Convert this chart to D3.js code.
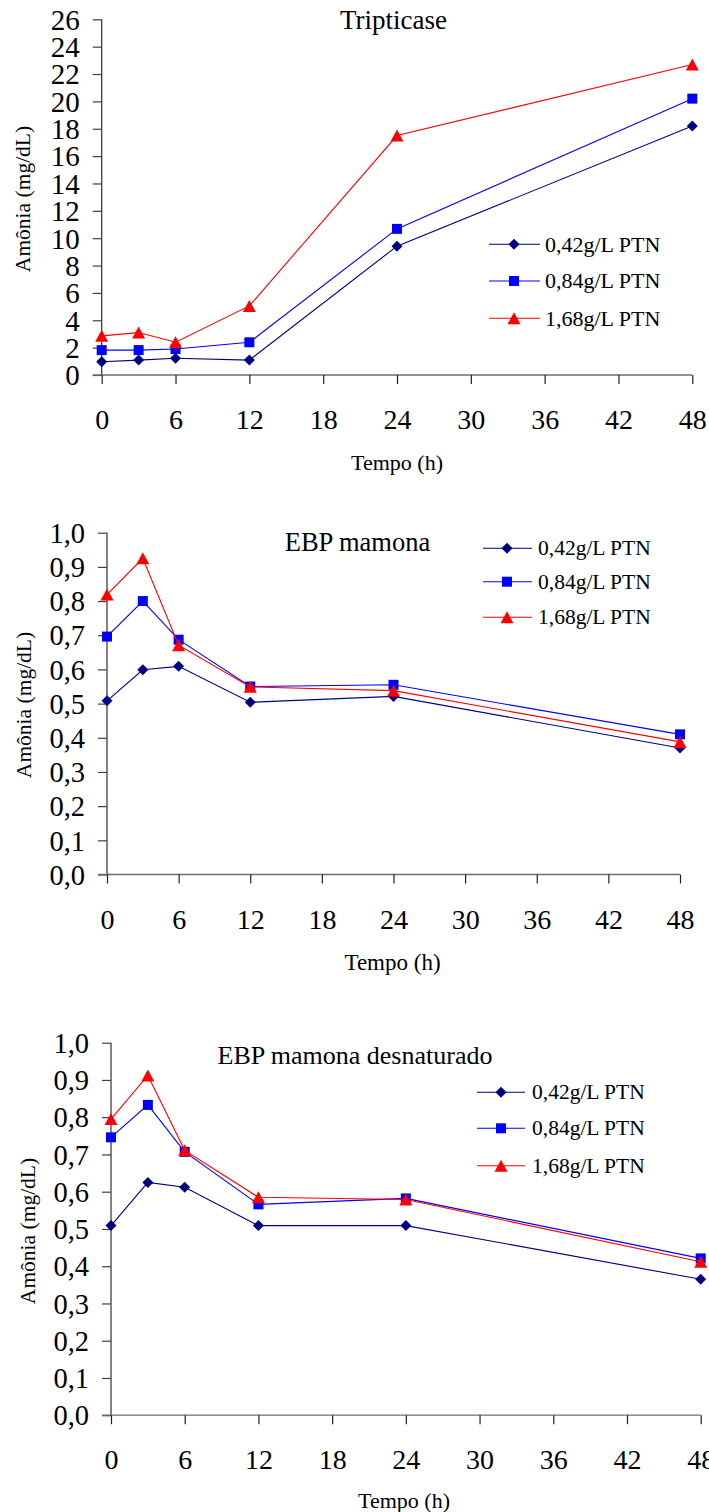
<!DOCTYPE html>
<html><head><meta charset="utf-8">
<script src="https://cdn.jsdelivr.net/npm/d3@7"></script>
<style>body{margin:0;background:#fff}svg{display:block}</style>
</head><body>
<script>
// ---- data ----
const hours = [0, 3, 6, 12, 24, 48];
const seriesNames = ["0,42g/L PTN", "0,84g/L PTN", "1,68g/L PTN"];
const xTickValues = [0, 6, 12, 18, 24, 30, 36, 42, 48];
const tripYTicks = [0, 2, 4, 6, 8, 10, 12, 14, 16, 18, 20, 22, 24, 26];
const ebpYTicks = [0, 0.1, 0.2, 0.3, 0.4, 0.5, 0.6, 0.7, 0.8, 0.9, 1.0];

const trip042 = [0.97, 1.09, 1.22, 1.09, 9.42, 18.2];
const trip084 = [1.82, 1.82, 1.90, 2.39, 10.68, 20.2];
const trip168 = [2.86, 3.10, 2.40, 5.05, 17.5, 22.7];

const ebp042 = [0.508, 0.599, 0.609, 0.504, 0.521, 0.370];
const ebp084 = [0.696, 0.800, 0.687, 0.550, 0.555, 0.410];
const ebp168 = [0.819, 0.925, 0.671, 0.549, 0.538, 0.388];

const des042 = [0.509, 0.625, 0.612, 0.509, 0.509, 0.365];
const des084 = [0.746, 0.833, 0.707, 0.566, 0.582, 0.421];
const des168 = [0.795, 0.912, 0.711, 0.585, 0.579, 0.412];

// ---- styles ----
const colors = ["#000080", "#0000FF", "#FF0000"];
const shapes = ["diamond", "square", "triangle"];
const FONT = "'Liberation Serif','Times New Roman',serif";

const panels = [
  { title: "Tripticase", series: [trip042, trip084, trip168], yTicks: tripYTicks, yMax: 26,
    fmt: d => String(d),
    x0: 101.7, x1: 692.3, yTop: 19.3, yBot: 375, yLabFont: 29,
    titleX: 393.5, titleY: 28.5, titleFont: 27,
    xtitleX: 397, xtitleY: 470, xtitleFont: 22,
    ytitleX: 24, ytitleY: 199,
    leg: { x0: 489, x1: 540, mx: 514, tx: 545, rows: [244.3, 281, 318.3], font: 22 } },
  { title: "EBP mamona", series: [ebp042, ebp084, ebp168], yTicks: ebpYTicks, yMax: 1,
    fmt: d => d.toFixed(1).replace(".", ","),
    x0: 107, x1: 680, yTop: 532.7, yBot: 874.5, yLabFont: 28.5,
    titleX: 357.5, titleY: 551, titleFont: 26.5,
    xtitleX: 392.5, xtitleY: 970, xtitleFont: 23,
    ytitleX: 25, ytitleY: 705,
    leg: { x0: 483, x1: 532, mx: 507, tx: 538, rows: [548.3, 581.7, 617.3], font: 21.5 } },
  { title: "EBP mamona desnaturado", series: [des042, des084, des168], yTicks: ebpYTicks, yMax: 1,
    fmt: d => d.toFixed(1).replace(".", ","),
    x0: 111, x1: 700.7, yTop: 1042.7, yBot: 1415.2, yLabFont: 28.5,
    titleX: 355, titleY: 1063.5, titleFont: 26,
    xtitleX: 404, xtitleY: 1508, xtitleFont: 22,
    ytitleX: 29, ytitleY: 1231,
    leg: { x0: 477, x1: 525, mx: 501, tx: 532, rows: [1092.3, 1128.3, 1165.7], font: 21.5 } }
];

function markerPath(shape) {
  if (shape === "diamond") return "M0,-5.5L5.5,0L0,5.5L-5.5,0Z";
  if (shape === "square") return "M-5,-5L5,-5L5,5L-5,5Z";
  return "M0,-6L6.5,6L-6.5,6Z";
}

const svg = d3.select("body").append("svg")
  .attr("width", 709).attr("height", 1512)
  .style("font-family", FONT);

panels.forEach(p => {
  const g = svg.append("g");
  const x = d3.scaleLinear().domain([0, 48]).range([p.x0, p.x1]);
  const y = d3.scaleLinear().domain([0, p.yMax]).range([p.yBot, p.yTop]);

  // Y axis
  const yAxis = g.append("g").attr("transform", `translate(${p.x0},0)`)
    .call(d3.axisLeft(y).tickValues(p.yTicks).tickFormat(p.fmt).tickSize(9).tickPadding(13));
  yAxis.select(".domain").attr("stroke", "#303030").attr("stroke-width", 1.2).attr("d", `M0,${p.yTop}V${p.yBot}`);
  yAxis.selectAll(".tick line").attr("stroke", "#404040").attr("stroke-width", 1.2);
  yAxis.selectAll(".tick text").attr("font-family", FONT).attr("font-size", p.yLabFont).attr("fill", "#000").attr("dy", "0.34em");

  // X axis
  const xAxis = g.append("g").attr("transform", `translate(0,${p.yBot})`)
    .call(d3.axisBottom(x).tickValues(xTickValues).tickFormat(d => String(d)).tickSize(9).tickPadding(0));
  xAxis.select(".domain").attr("stroke", "#6e6e6e").attr("stroke-width", 1.3).attr("d", `M${p.x0 - 9},0H${p.x1}`);
  xAxis.selectAll(".tick line").attr("stroke", "#202020").attr("stroke-width", 1.2);
  xAxis.selectAll(".tick text").attr("font-family", FONT).attr("font-size", 28).attr("fill", "#000")
    .attr("y", 54).attr("dy", null);

  // titles
  g.append("text").attr("x", p.titleX).attr("y", p.titleY).attr("text-anchor", "middle")
    .attr("font-size", p.titleFont).text(p.title);
  g.append("text").attr("x", p.xtitleX).attr("y", p.xtitleY).attr("text-anchor", "middle")
    .attr("font-size", p.xtitleFont).text("Tempo (h)");
  g.append("text").attr("transform", `translate(${p.ytitleX},${p.ytitleY}) rotate(-90)`)
    .attr("text-anchor", "middle").attr("dy", "0.3em").attr("font-size", 21.5).text("Amônia (mg/dL)");

  // series
  const line = d3.line().x((d, i) => x(hours[i])).y(d => y(d));
  p.series.forEach((vals, si) => {
    const sg = g.append("g");
    sg.append("path").attr("d", line(vals)).attr("fill", "none")
      .attr("stroke", colors[si]).attr("stroke-width", 1.1);
    sg.selectAll("path.m").data(vals).enter().append("path").attr("class", "m")
      .attr("d", markerPath(shapes[si]))
      .attr("transform", (d, i) => `translate(${x(hours[i])},${y(d)})`)
      .attr("fill", colors[si]);
  });

  // legend
  seriesNames.forEach((name, si) => {
    const ry = p.leg.rows[si];
    g.append("line").attr("x1", p.leg.x0).attr("x2", p.leg.x1).attr("y1", ry).attr("y2", ry)
      .attr("stroke", colors[si]).attr("stroke-width", 1.1);
    g.append("path").attr("d", markerPath(shapes[si]))
      .attr("transform", `translate(${p.leg.mx},${ry})`).attr("fill", colors[si]);
    g.append("text").attr("x", p.leg.tx).attr("y", ry).attr("dy", "0.33em")
      .attr("font-size", p.leg.font).text(name);
  });
});
</script>
</body></html>
